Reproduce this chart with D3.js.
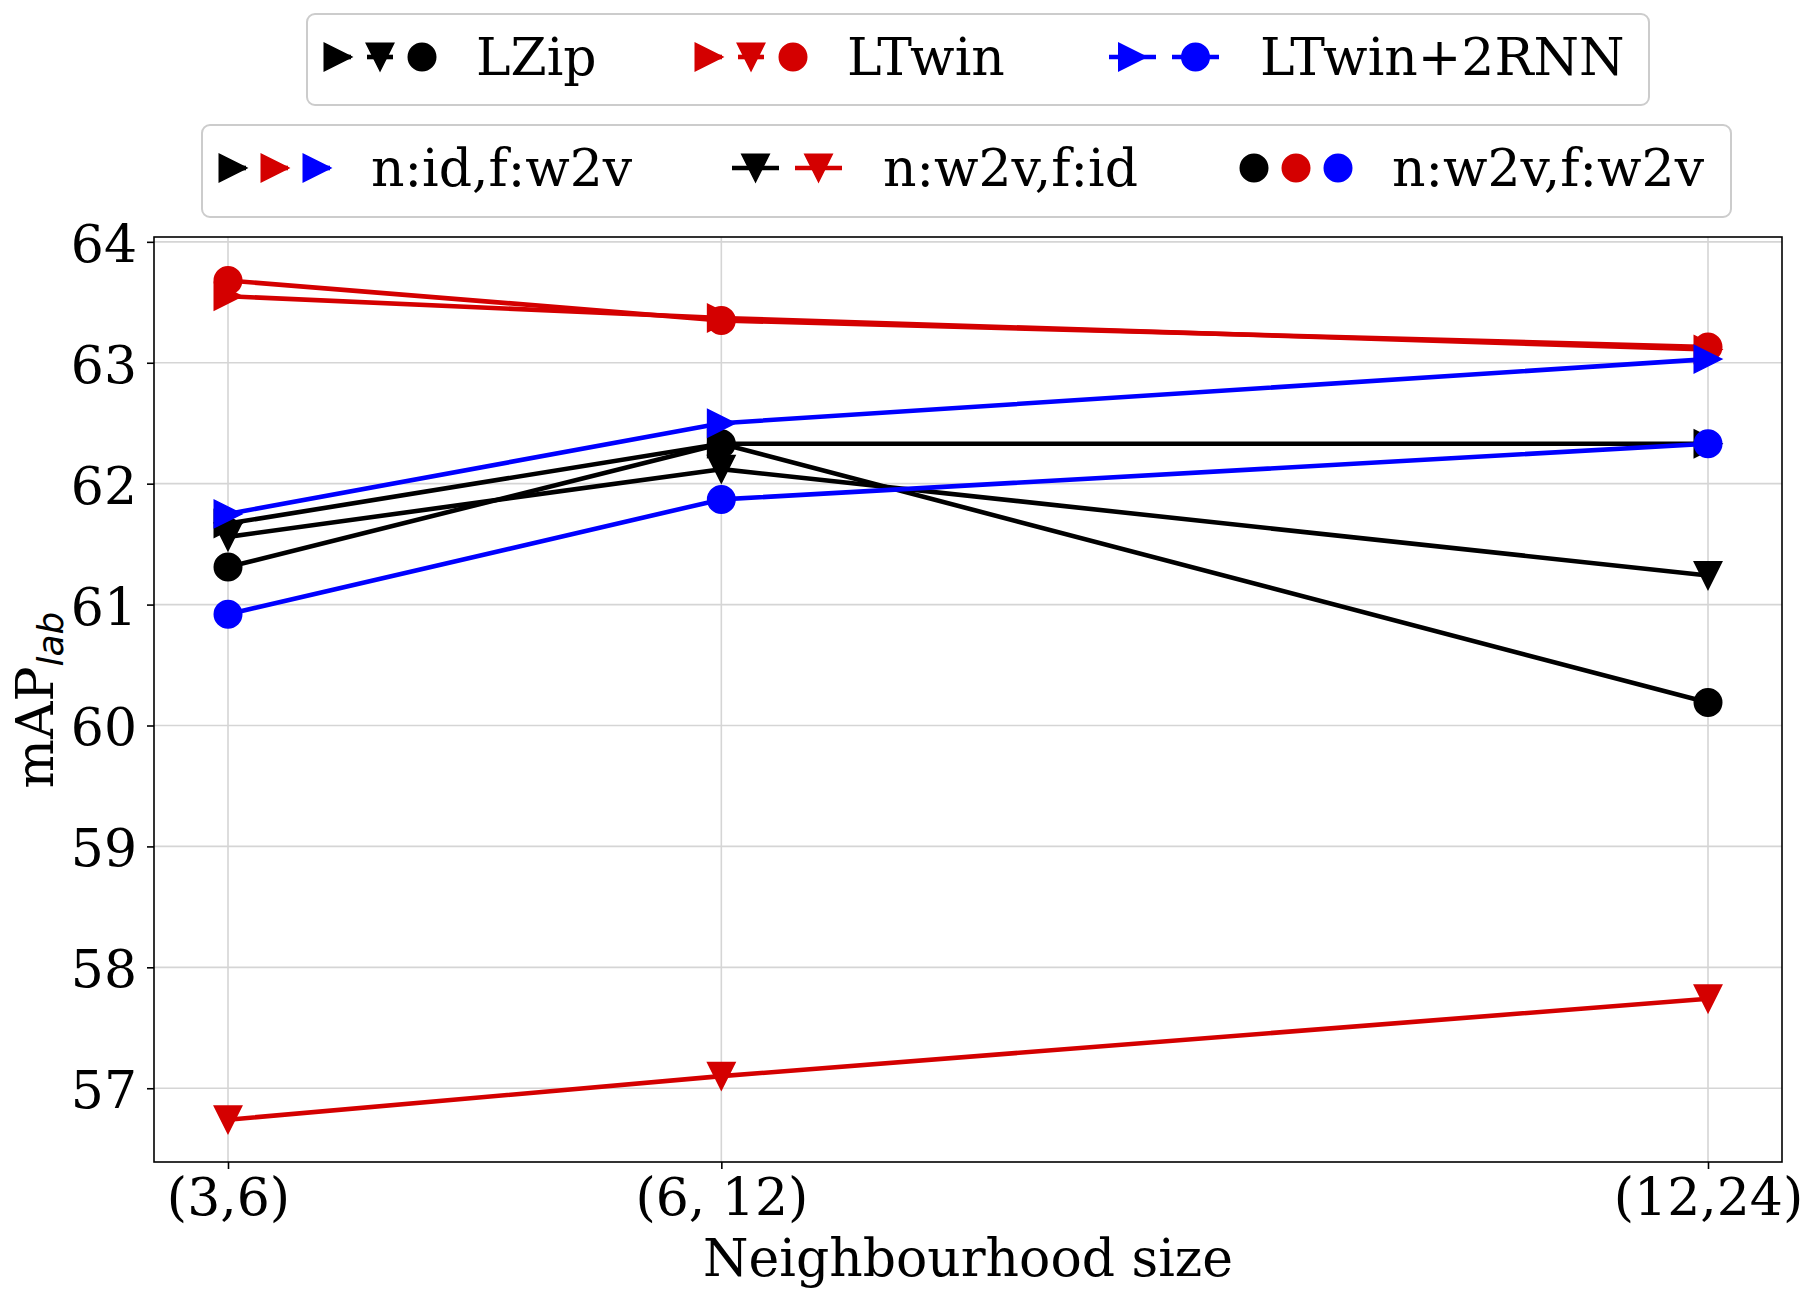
<!DOCTYPE html>
<html>
<head>
<meta charset="utf-8">
<script src="https://cdn.jsdelivr.net/npm/d3@7"></script>
<style>
  html, body { margin: 0; padding: 0; background: #fff; }
  svg { display: block; }
</style>
</head>
<body>
<svg id="chart" width="1818" height="1301"></svg>
<script>
// mAP_lab vs tamaño de vecindario: tres modelos x tres configuraciones n/f

const X_KEYS = [1, 2, 4];
const X_LABELS = ['(3,6)', '(6, 12)', '(12,24)'];
const Y_TICKS = [57, 58, 59, 60, 61, 62, 63, 64];

// LZip (negro)
const LZIP_ID_W2V = [61.67, 62.33, 62.33];
const LZIP_W2V_ID = [61.56, 62.12, 61.24];
const LZIP_W2V_W2V = [61.31, 62.33, 60.19];
// LTwin (rojo)
const LTWIN_ID_W2V = [63.55, 63.37, 63.11];
const LTWIN_W2V_ID = [56.74, 57.10, 57.74];
const LTWIN_W2V_W2V = [63.68, 63.35, 63.13];
// LTwin+2RNN (azul)
const RNN_ID_W2V = [61.75, 62.50, 63.03];
const RNN_W2V_W2V = [60.92, 61.87, 62.33];

const BLACK = '#000000', RED = '#d40000', BLUE = '#0000ff';

const SERIES = [
  { vals: LZIP_ID_W2V, color: BLACK, shape: 'right' },
  { vals: LZIP_W2V_ID, color: BLACK, shape: 'down' },
  { vals: LZIP_W2V_W2V, color: BLACK, shape: 'circle' },
  { vals: LTWIN_ID_W2V, color: RED, shape: 'right' },
  { vals: LTWIN_W2V_ID, color: RED, shape: 'down' },
  { vals: LTWIN_W2V_W2V, color: RED, shape: 'circle' },
  { vals: RNN_ID_W2V, color: BLUE, shape: 'right' },
  { vals: RNN_W2V_W2V, color: BLUE, shape: 'circle' },
];

const LEGEND_MODELS = [
  { label: 'LZip', colors: [BLACK, BLACK, BLACK], shapes: ['right', 'down', 'circle'] },
  { label: 'LTwin', colors: [RED, RED, RED], shapes: ['right', 'down', 'circle'] },
  { label: 'LTwin+2RNN', colors: [BLUE, BLUE], shapes: ['right', 'circle'] },
];
const LEGEND_CONFIGS = [
  { label: 'n:id,f:w2v', colors: [BLACK, RED, BLUE], shapes: ['right', 'right', 'right'] },
  { label: 'n:w2v,f:id', colors: [BLACK, RED], shapes: ['down', 'down'] },
  { label: 'n:w2v,f:w2v', colors: [BLACK, RED, BLUE], shapes: ['circle', 'circle', 'circle'] },
];

const W = 1818, H = 1301;
const M = { left: 154, right: 1782, top: 237, bottom: 1162 };
const SERIF = '"DejaVu Serif", serif';
const FS = 52, MS = 27.5, LW = 4.6;

const svg = d3.select('#chart');
svg.append('rect').attr('width', W).attr('height', H).attr('fill', '#fff');

const x = d3.scaleLinear().domain([0.85, 4.15]).range([M.left, M.right]);
const y = d3.scaleLinear().domain([56.39, 64.04]).range([M.bottom, M.top]);

// forma del marcador centrada en (cx, cy), tamaño s
function markerPath(shape, cx, cy, s) {
  const h = s / 2;
  if (shape === 'right') return `M${cx + h},${cy}L${cx - h},${cy - h}L${cx - h},${cy + h}Z`;
  if (shape === 'down') return `M${cx},${cy + h}L${cx - h},${cy - h}L${cx + h},${cy - h}Z`;
  return `M${cx - h},${cy}a${h},${h} 0 1,0 ${s},0a${h},${h} 0 1,0 ${-s},0Z`;
}

// rejilla
const gGrid = svg.append('g');
gGrid.selectAll('line.gx').data(X_KEYS).join('line')
  .attr('x1', d => x(d)).attr('x2', d => x(d))
  .attr('y1', M.top).attr('y2', M.bottom)
  .attr('stroke', '#d5d5d5').attr('stroke-width', 1.6);
gGrid.selectAll('line.gy').data(Y_TICKS).join('line')
  .attr('x1', M.left).attr('x2', M.right)
  .attr('y1', d => y(d)).attr('y2', d => y(d))
  .attr('stroke', '#d5d5d5').attr('stroke-width', 1.6);

// series
const line = d3.line().x((d, i) => x(X_KEYS[i])).y(d => y(d));
const gData = svg.append('g');
SERIES.forEach(s => {
  const g = gData.append('g');
  g.append('path').datum(s.vals).attr('d', line)
    .attr('fill', 'none').attr('stroke', s.color).attr('stroke-width', LW)
    .attr('stroke-linejoin', 'round');
  g.selectAll('path.m').data(s.vals).join('path')
    .attr('d', (d, i) => markerPath(s.shape, x(X_KEYS[i]), y(d), MS))
    .attr('fill', s.color).attr('stroke', s.color).attr('stroke-width', 1.5)
    .attr('stroke-linejoin', 'miter');
});

// ejes
const xAxis = d3.axisBottom(x).tickValues(X_KEYS).tickFormat((d, i) => X_LABELS[i])
  .tickSizeInner(7).tickSizeOuter(0).tickPadding(8);
const yAxis = d3.axisLeft(y).tickValues(Y_TICKS).tickFormat(d3.format('d'))
  .tickSizeInner(7).tickSizeOuter(0).tickPadding(10);

const gx = svg.append('g').attr('transform', `translate(0,${M.bottom})`).call(xAxis);
const gy = svg.append('g').attr('transform', `translate(${M.left},0)`).call(yAxis);
[gx, gy].forEach(g => {
  g.select('.domain').remove();
  g.selectAll('.tick line').attr('stroke', '#000').attr('stroke-width', 1.6);
  g.selectAll('.tick text').attr('font-family', SERIF).attr('font-size', FS).attr('fill', '#000');
});
gx.selectAll('.tick text').attr('dy', null).attr('y', 53);
gy.selectAll('.tick text').attr('dy', null).attr('y', 19.5);

svg.append('rect')
  .attr('x', M.left).attr('y', M.top)
  .attr('width', M.right - M.left).attr('height', M.bottom - M.top)
  .attr('fill', 'none').attr('stroke', '#000').attr('stroke-width', 1.6);

// títulos de ejes
svg.append('text')
  .attr('x', (M.left + M.right) / 2).attr('y', 1276)
  .attr('text-anchor', 'middle')
  .attr('font-family', SERIF).attr('font-size', FS)
  .text('Neighbourhood size');

const yl = svg.append('text')
  .attr('transform', `translate(53,700) rotate(-90)`)
  .attr('text-anchor', 'middle')
  .attr('font-family', SERIF).attr('font-size', FS);
yl.append('tspan').text('mAP');
yl.append('tspan').attr('dy', 10)
  .attr('font-family', '"DejaVu Sans", sans-serif').attr('font-style', 'italic')
  .attr('font-size', 36).text('lab');

// leyendas (dos cajas encima del gráfico)
const HANDLE_LEN = 110, HANDLE_PAD = 16, TEXT_OFF = 151;

function drawLegend(items, box, starts) {
  const g = svg.append('g');
  g.append('rect')
    .attr('x', box.x0).attr('y', box.y0)
    .attr('width', box.x1 - box.x0).attr('height', box.y1 - box.y0)
    .attr('rx', 8).attr('ry', 8)
    .attr('fill', '#fff').attr('fill-opacity', 0.8)
    .attr('stroke', '#cccccc').attr('stroke-width', 2);
  items.forEach((it, k) => {
    const x0 = starts[k];
    const n = it.shapes.length;
    const w = (HANDLE_LEN - HANDLE_PAD * (n - 1)) / n;
    it.shapes.forEach((sh, i) => {
      const a = x0 + i * (w + HANDLE_PAD);
      g.append('line')
        .attr('x1', a).attr('x2', a + w).attr('y1', box.cy).attr('y2', box.cy)
        .attr('stroke', it.colors[i]).attr('stroke-width', LW);
      g.append('path')
        .attr('d', markerPath(sh, a + w / 2, box.cy, MS))
        .attr('fill', it.colors[i]).attr('stroke', it.colors[i]).attr('stroke-width', 1.5);
    });
    g.append('text')
      .attr('x', x0 + TEXT_OFF).attr('y', box.cy + 18)
      .attr('font-family', SERIF).attr('font-size', FS)
      .text(it.label);
  });
}

drawLegend(LEGEND_MODELS, { x0: 307, x1: 1649, y0: 14, y1: 105, cy: 57 }, [325, 696, 1109]);
drawLegend(LEGEND_CONFIGS, { x0: 202, x1: 1731, y0: 125, y1: 217, cy: 168 }, [220, 732, 1241]);
</script>
</body>
</html>
